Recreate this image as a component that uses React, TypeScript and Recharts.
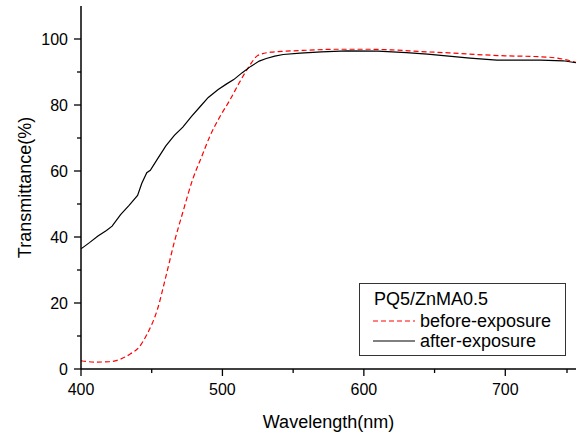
import React from "react";
import { LineChart, Line, XAxis, YAxis, Legend } from "recharts";

const FONT = '"Liberation Sans", Arial, sans-serif';

// before-exposure (red dashed)
const beforeNm = [
  400, 410, 420, 428, 435, 441, 447, 454, 460, 466, 472, 479, 485, 491, 498,
  505, 512, 519, 525, 534, 545, 560, 580, 600, 620, 640, 660, 680, 700, 720,
  735, 742, 750,
];
const beforeT = [
  2.5, 2.1, 2.2, 3.0, 4.6, 6.6, 10.8, 18.0, 28.0, 38.5, 47.5, 57.5, 64.0, 70.4,
  76.3, 81.3, 86.8, 91.8, 95.0, 96.0, 96.3, 96.6, 96.9, 96.9, 96.7, 96.2, 95.8,
  95.3, 94.9, 94.7, 94.3, 93.8, 92.9,
];

// after-exposure (black solid)
const afterNm = [
  400, 406, 412, 418, 422, 428, 434, 440, 443, 446.5, 449, 454, 460, 466, 472,
  478, 484, 490, 497, 503, 508, 514, 520, 526, 531, 537, 543, 555, 570, 588,
  610, 630, 645, 660, 675, 694, 710, 725, 741, 750,
];
const afterT = [
  36.4, 38.3, 40.3, 42.0, 43.3, 46.8, 49.6, 52.6, 56.3, 59.5, 60.2, 63.6, 67.6,
  70.8, 73.3, 76.5, 79.4, 82.3, 84.7, 86.4, 87.7, 89.8, 91.7, 93.3, 94.1, 94.8,
  95.3, 95.7, 96.1, 96.4, 96.3, 95.9, 95.4, 94.8, 94.2, 93.6, 93.6, 93.6, 93.4,
  92.8,
];

const seriesNames = ["before-exposure", "after-exposure"];
const legendTitle = "PQ5/ZnMA0.5";

const xTicks = [400, 450, 500, 550, 600, 650, 700, 750];
const yTicks = [0, 10, 20, 30, 40, 50, 60, 70, 80, 90, 100];

const beforeData = beforeNm.map((nm, i) => ({ nm, t: beforeT[i] }));
const afterData = afterNm.map((nm, i) => ({ nm, t: afterT[i] }));

const BottomTick = (props: any) => {
  const { x, y, payload } = props;
  const major = payload.value % 100 === 0;
  return (
    <g>
      <line x1={x} x2={x} y1={y} y2={y + (major ? 7 : 4)} stroke="#000" strokeWidth={1.3} />
      {major && payload.value < 750 && (
        <text x={x} y={y + 26} textAnchor="middle" fontSize={16} fontFamily={FONT} fill="#000">
          {payload.value}
        </text>
      )}
    </g>
  );
};

const TopTick = (props: any) => {
  const { x, y } = props;
  return <line x1={x} x2={x} y1={y} y2={y - 2} stroke="#000" strokeWidth={1.3} />;
};

const LeftTick = (props: any) => {
  const { x, y, payload } = props;
  const major = payload.value % 20 === 0;
  return (
    <g>
      <line x1={x} x2={x - (major ? 7 : 4)} y1={y} y2={y} stroke="#000" strokeWidth={1.3} />
      {major && (
        <text x={x - 13} y={y + 6} textAnchor="end" fontSize={16} fontFamily={FONT} fill="#000">
          {payload.value}
        </text>
      )}
    </g>
  );
};

const RightTick = (props: any) => {
  const { x, y, payload } = props;
  const major = payload.value % 20 === 0;
  return <line x1={x} x2={x + (major ? 7 : 4)} y1={y} y2={y} stroke="#000" strokeWidth={1.3} />;
};

const LegendBox = (props: any) => {
  const items = [...(props.payload || [])].sort(
    (a: any, b: any) => seriesNames.indexOf(a.value) - seriesNames.indexOf(b.value)
  );
  return (
    <svg width={207} height={73} style={{ display: "block" }}>
      <rect x={0.5} y={0.5} width={206} height={72} fill="#fff" stroke="#333" />
      <text x={15} y={22} fontSize={18} fontFamily={FONT} fill="#000">
        {legendTitle}
      </text>
      {items.map((entry: any, i: number) => {
        const cy = 38 + i * 20;
        return (
          <g key={entry.value}>
            <line
              x1={14}
              x2={56}
              y1={cy}
              y2={cy}
              stroke={entry.color}
              strokeWidth={1}
              strokeDasharray={entry.payload?.strokeDasharray}
            />
            <text x={61} y={cy + 6} fontSize={18} fontFamily={FONT} fill="#000">
              {entry.value}
            </text>
          </g>
        );
      })}
    </svg>
  );
};

export default function App() {
  return (
    <div style={{ position: "absolute", left: 0, top: 0, background: "#fff" }}>
      <LineChart width={579} height={432} margin={{ top: 6, right: 3, bottom: 0, left: 0 }}>
        <XAxis
          xAxisId="b"
          dataKey="nm"
          type="number"
          domain={[400, 750]}
          ticks={xTicks}
          allowDataOverflow
          height={63}
          tickSize={0}
          tickMargin={0}
          tick={<BottomTick />}
          tickLine={false}
          axisLine={{ stroke: "#000", strokeWidth: 1.5 }}
          label={{
            content: (p: any) => {
              const vb = p.viewBox;
              return (
                <text x={vb.x + vb.width / 2} y={428} textAnchor="middle" fontSize={18} fontFamily={FONT} fill="#000">
                  Wavelength(nm)
                </text>
              );
            },
          }}
        />
        <XAxis
          xAxisId="t"
          orientation="top"
          type="number"
          domain={[400, 750]}
          ticks={xTicks}
          height={0}
          tickSize={0}
          tickMargin={0}
          tick={<TopTick />}
          tickLine={false}
          axisLine={{ stroke: "#000", strokeWidth: 1.5 }}
        />
        <YAxis
          yAxisId="l"
          type="number"
          domain={[0, 110]}
          ticks={yTicks}
          width={81}
          tickSize={0}
          tickMargin={0}
          tick={<LeftTick />}
          tickLine={false}
          axisLine={{ stroke: "#000", strokeWidth: 1.5 }}
          label={{
            content: (p: any) => {
              const vb = p.viewBox;
              const cy = vb.y + vb.height / 2;
              return (
                <text
                  x={25}
                  y={cy}
                  transform={`rotate(-90 25 ${cy})`}
                  textAnchor="middle"
                  dominantBaseline="central"
                  fontSize={18}
                  fontFamily={FONT}
                  fill="#000"
                >
                  Transmittance(%)
                </text>
              );
            },
          }}
        />
        <YAxis
          yAxisId="r"
          orientation="right"
          type="number"
          domain={[0, 110]}
          ticks={yTicks}
          width={0}
          tickSize={0}
          tickMargin={0}
          tick={<RightTick />}
          tickLine={false}
          axisLine={{ stroke: "#000", strokeWidth: 1.5 }}
        />
        <Legend
          layout="vertical"
          align="center"
          verticalAlign="middle"
          wrapperStyle={{ left: 359, top: 283, width: 207, height: 73 }}
          content={<LegendBox />}
        />
        <Line
          xAxisId="b"
          yAxisId="l"
          data={beforeData}
          dataKey="t"
          name={seriesNames[0]}
          type="monotone"
          stroke="#ff0000"
          strokeWidth={1.2}
          strokeDasharray="5 3"
          dot={false}
          isAnimationActive={false}
        />
        <Line
          xAxisId="b"
          yAxisId="l"
          data={afterData}
          dataKey="t"
          name={seriesNames[1]}
          type="linear"
          stroke="#000"
          strokeWidth={1.2}
          dot={false}
          isAnimationActive={false}
        />
      </LineChart>
    </div>
  );
}
